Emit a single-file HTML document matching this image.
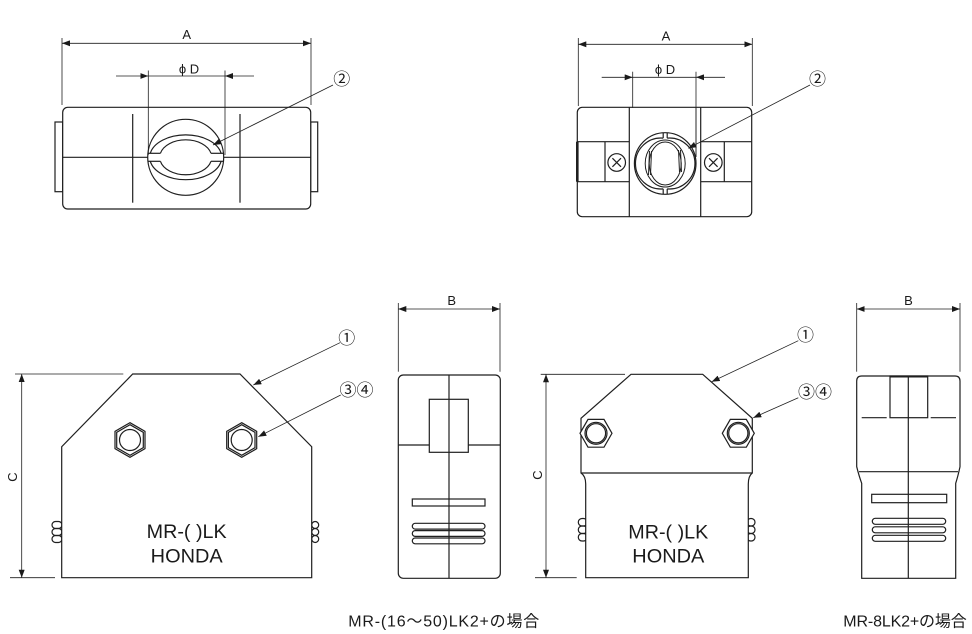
<!DOCTYPE html>
<html>
<head>
<meta charset="utf-8">
<style>
html,body{margin:0;padding:0;background:#fff;}
svg{display:block;}
text{font-family:"Liberation Sans","Noto Sans CJK JP",sans-serif;fill:#1a1a1a;}
</style>
</head>
<body>
<svg width="972" height="634" viewBox="0 0 972 634" xmlns="http://www.w3.org/2000/svg">
<defs>
<marker id="ar" viewBox="0 0 8 6" refX="8" refY="3" markerWidth="8" markerHeight="6" markerUnits="userSpaceOnUse" orient="auto-start-reverse">
<path d="M0,0 L8,3 L0,6 z" fill="#1a1a1a"/>
</marker>
</defs>

<g fill="none" stroke="#1f1f1f" stroke-width="0.8">
<!-- ===== TOP LEFT dims ===== -->
<line x1="62" y1="38" x2="62" y2="105"/>
<line x1="311" y1="38" x2="311" y2="105"/>
<line x1="62" y1="43.3" x2="311" y2="43.3" marker-start="url(#ar)" marker-end="url(#ar)"/>
<line x1="116" y1="76" x2="148.3" y2="76" marker-end="url(#ar)"/>
<line x1="254" y1="76" x2="225" y2="76" marker-end="url(#ar)"/>
<line x1="148.3" y1="76" x2="225" y2="76"/>
<line x1="148.3" y1="70.5" x2="148.3" y2="155"/>
<line x1="225" y1="70.5" x2="225" y2="155"/>
</g>
<g fill="none" stroke="#1f1f1f" stroke-width="1.2">
<rect x="55" y="122" width="7.7" height="69.7"/>
<rect x="310.7" y="122" width="7" height="69.7"/>
<rect x="62.7" y="107.3" width="248" height="101.7" rx="5" fill="#fff"/>
<line x1="62.7" y1="157.3" x2="148" y2="157.3"/>
<line x1="223.5" y1="157.3" x2="310.7" y2="157.3"/>
<line x1="132.7" y1="114" x2="132.7" y2="202.7"/>
<line x1="240" y1="114" x2="240" y2="202.7"/>
<circle cx="185.7" cy="157.3" r="38"/>
<path d="M150.3,153.3 A36,22.5 0 0 1 221.1,153.3"/>
<path d="M150.3,161.3 A36,22.5 0 0 0 221.1,161.3"/>
<path d="M160.4,153.3 A26,17.5 0 0 1 211,153.3"/>
<path d="M160.4,161.3 A26,17.5 0 0 0 211,161.3"/>
<line x1="148" y1="153.3" x2="160.4" y2="153.3"/>
<line x1="148" y1="161.3" x2="160.4" y2="161.3"/>
<line x1="211" y1="153.3" x2="223.5" y2="153.3"/>
<line x1="211" y1="161.3" x2="223.5" y2="161.3"/>
</g>
<line x1="148.3" y1="107" x2="148.3" y2="155" stroke="#1f1f1f" stroke-width="0.8"/>
<line x1="225" y1="107" x2="225" y2="155" stroke="#1f1f1f" stroke-width="0.8"/>
<text x="186.7" y="39" font-size="13" text-anchor="middle">A</text>
<text x="189" y="73.5" font-size="13" text-anchor="middle">ϕ D</text>
<text x="341.7" y="85" font-size="17" text-anchor="middle">②</text>

<!-- ===== TOP RIGHT ===== -->
<g fill="none" stroke="#1f1f1f" stroke-width="0.8">
<line x1="578.3" y1="38" x2="578.3" y2="106"/>
<line x1="752.3" y1="38" x2="752.3" y2="106"/>
<line x1="578.3" y1="44.3" x2="752.3" y2="44.3" marker-start="url(#ar)" marker-end="url(#ar)"/>
<line x1="601.7" y1="77.3" x2="632.7" y2="77.3" marker-end="url(#ar)"/>
<line x1="725" y1="77.3" x2="696" y2="77.3" marker-end="url(#ar)"/>
<line x1="632.7" y1="77.3" x2="696" y2="77.3"/>
<line x1="632.7" y1="71.7" x2="632.7" y2="108"/>
<line x1="696" y1="71.7" x2="696" y2="157"/>
</g>
<g fill="none" stroke="#1f1f1f" stroke-width="1.2">
<rect x="577.3" y="107.3" width="174.4" height="109.4" rx="5"/>
<line x1="629.3" y1="107.3" x2="629.3" y2="216.7"/>
<line x1="700.7" y1="107.3" x2="700.7" y2="216.7"/>
<line x1="577.3" y1="141.7" x2="629.3" y2="141.7"/>
<line x1="577.3" y1="181.7" x2="629.3" y2="181.7"/>
<line x1="700.7" y1="141.7" x2="751.7" y2="141.7"/>
<line x1="700.7" y1="181.7" x2="751.7" y2="181.7"/>
<line x1="605" y1="141.7" x2="605" y2="181.7"/>
<line x1="724.3" y1="141.7" x2="724.3" y2="181.7"/>
<circle cx="616.7" cy="162.5" r="8.8"/>
<circle cx="713.3" cy="162.5" r="8.8"/>
<path d="M612.4,158.2 L621,166.8 M621,158.2 L612.4,166.8"/>
<path d="M709,158.2 L717.6,166.8 M717.6,158.2 L709,166.8"/>
<circle cx="665.2" cy="163.5" r="30.8"/>
<path d="M667.2,138.1 A25.5,25.5 0 1 1 667.2,188.9"/>
<path d="M663.2,138.1 A25.5,25.5 0 1 0 663.2,188.9"/>
<line x1="663.2" y1="132.8" x2="663.2" y2="138.1"/>
<line x1="667.2" y1="132.8" x2="667.2" y2="138.1"/>
<line x1="663.2" y1="188.9" x2="663.2" y2="194.3"/>
<line x1="667.2" y1="188.9" x2="667.2" y2="194.3"/>
</g>
<g fill="none" stroke="#1f1f1f" stroke-width="1">
<ellipse cx="665.2" cy="163.5" rx="20" ry="23.5"/>
<ellipse cx="665.2" cy="163.5" rx="16" ry="21.5"/>
<path d="M649.5,151 L648.5,175 M651.5,151 L650.5,175"/>
<path d="M680.5,150 L681.5,172 M678.5,150 L679.5,172"/>
</g>
<line x1="577.3" y1="141.7" x2="577.3" y2="181.7" stroke="#1f1f1f" stroke-width="2.6"/>
<line x1="696" y1="107.3" x2="696" y2="157" stroke="#1f1f1f" stroke-width="0.8"/>
<text x="666" y="40.5" font-size="13" text-anchor="middle">A</text>
<text x="665" y="74" font-size="13" text-anchor="middle">ϕ D</text>
<text x="817.5" y="85" font-size="17" text-anchor="middle">②</text>

<!-- ===== BOTTOM LEFT ===== -->
<g fill="none" stroke="#1f1f1f" stroke-width="0.8">
<line x1="15" y1="374" x2="123.3" y2="374"/>
<line x1="10" y1="577.7" x2="55" y2="577.7"/>
<line x1="21.7" y1="374" x2="21.7" y2="577.7" marker-start="url(#ar)" marker-end="url(#ar)"/>
</g>
<g fill="none" stroke="#1f1f1f" stroke-width="1.2">
<rect x="52" y="521.5" width="10" height="7" rx="3.5"/>
<rect x="52" y="528.5" width="10" height="7" rx="3.5"/>
<rect x="52" y="535.5" width="10" height="7" rx="3.5"/>
<rect x="311.7" y="521.5" width="7" height="7" rx="3.5"/>
<rect x="311.7" y="528.5" width="7" height="7" rx="3.5"/>
<rect x="311.7" y="535.5" width="7" height="7" rx="3.5"/>
<path d="M132.7,374 L240,374 L311.7,446.7 L311.7,577.7 L61.7,577.7 L61.7,446.7 Z" fill="#fff"/>
<polygon points="130,422.7 145,431.3 145,448.7 130,457.3 115,448.7 115,431.3"/>
<polygon points="130,424.7 143.3,432.3 143.3,447.7 130,455.3 116.7,447.7 116.7,432.3"/>
<circle cx="130" cy="440" r="10.5"/>
<polygon points="241.7,422.7 256.7,431.3 256.7,448.7 241.7,457.3 226.7,448.7 226.7,431.3"/>
<polygon points="241.7,424.7 255,432.3 255,447.7 241.7,455.3 228.4,447.7 228.4,432.3"/>
<circle cx="241.7" cy="440" r="10.5"/>
</g>
<text transform="translate(17,477) rotate(-90)" font-size="13" text-anchor="middle">C</text>
<text x="186.7" y="538" font-size="19" text-anchor="middle" textLength="80" lengthAdjust="spacingAndGlyphs">MR-( )LK</text>
<text x="186.7" y="562.7" font-size="19" text-anchor="middle" textLength="72" lengthAdjust="spacingAndGlyphs">HONDA</text>
<text x="346.7" y="344" font-size="17" text-anchor="middle">①</text>
<text x="356.5" y="396" font-size="17" text-anchor="middle">③④</text>

<!-- ===== BOTTOM MIDDLE ===== -->
<g fill="none" stroke="#1f1f1f" stroke-width="0.8">
<line x1="398.3" y1="303" x2="398.3" y2="371.7"/>
<line x1="500" y1="303" x2="500" y2="371.7"/>
<line x1="398.3" y1="309" x2="500" y2="309" marker-start="url(#ar)" marker-end="url(#ar)"/>
</g>
<g fill="none" stroke="#1f1f1f" stroke-width="1.2">
<rect x="398.3" y="375" width="102" height="203.3" rx="5"/>
<line x1="449" y1="375" x2="449" y2="578.3"/>
<line x1="398.3" y1="445" x2="429.3" y2="445"/>
<line x1="468.3" y1="445" x2="500.3" y2="445"/>
<rect x="429.3" y="399.3" width="39" height="53"/>
<rect x="412.3" y="499" width="72.7" height="7"/>
<rect x="412.3" y="523.3" width="72.7" height="5.8" rx="2.9"/>
<rect x="412.3" y="530.6" width="72.7" height="5.8" rx="2.9"/>
<rect x="412.3" y="538" width="72.7" height="5.8" rx="2.9"/>
</g>
<text x="451.7" y="305" font-size="13" text-anchor="middle">B</text>

<!-- ===== BOTTOM RIGHT ===== -->
<g fill="none" stroke="#1f1f1f" stroke-width="0.8">
<line x1="540.7" y1="374.3" x2="625" y2="374.3"/>
<line x1="535" y1="577.7" x2="576.7" y2="577.7"/>
<line x1="546" y1="374.3" x2="546" y2="577.7" marker-start="url(#ar)" marker-end="url(#ar)"/>
</g>
<g fill="none" stroke="#1f1f1f" stroke-width="1.2">
<rect x="578.3" y="518.5" width="9" height="7.5" rx="3.7"/>
<rect x="578.3" y="526" width="9" height="7.5" rx="3.7"/>
<rect x="578.3" y="533.5" width="9" height="7.5" rx="3.7"/>
<rect x="747" y="518.5" width="8" height="7.5" rx="3.7"/>
<rect x="747" y="526" width="8" height="7.5" rx="3.7"/>
<rect x="747" y="533.5" width="8" height="7.5" rx="3.7"/>
<path d="M631,374.3 L702.7,374.3 L752.3,418.3 L752.3,473 Q748.3,476 748.3,484 L748.3,577.7 L585.7,577.7 L585.7,484 Q585.7,476 581,473 L581,418.3 Z" fill="#fff"/>
<line x1="581" y1="473" x2="752.3" y2="473"/>
<polygon points="612,433.3 604,419.4 588,419.4 580,433.3 588,447.2 604,447.2" fill="#fff"/>
<circle cx="596" cy="433.3" r="11"/>
<circle cx="596" cy="433.3" r="9.6"/>
<polygon points="754.3,433.3 746.3,419.4 730.3,419.4 722.3,433.3 730.3,447.2 746.3,447.2" fill="#fff"/>
<circle cx="738.3" cy="433.3" r="11"/>
<circle cx="738.3" cy="433.3" r="9.6"/>
</g>
<text transform="translate(542,475) rotate(-90)" font-size="13" text-anchor="middle">C</text>
<text x="668.3" y="538.3" font-size="19" text-anchor="middle" textLength="80" lengthAdjust="spacingAndGlyphs">MR-( )LK</text>
<text x="668.3" y="562.7" font-size="19" text-anchor="middle" textLength="72" lengthAdjust="spacingAndGlyphs">HONDA</text>
<text x="805.5" y="341" font-size="17" text-anchor="middle">①</text>
<text x="815" y="398" font-size="17" text-anchor="middle">③④</text>

<!-- ===== FAR RIGHT ===== -->
<g fill="none" stroke="#1f1f1f" stroke-width="0.8">
<line x1="856.7" y1="303" x2="856.7" y2="371.7"/>
<line x1="960" y1="303" x2="960" y2="371.7"/>
<line x1="856.7" y1="309" x2="960" y2="309" marker-start="url(#ar)" marker-end="url(#ar)"/>
</g>
<g fill="none" stroke="#1f1f1f" stroke-width="1.2">
<path d="M856.7,381 Q856.7,376 861.7,376 L955,376 Q960,376 960,381 L960,466.7 Q958,476 955.7,483.3 L955.7,578.3 L861.7,578.3 L861.7,483.3 Q859,476 856.7,466.7 Z"/>
<line x1="908.3" y1="376" x2="908.3" y2="578.3"/>
<line x1="859" y1="471.7" x2="958" y2="471.7"/>
<line x1="861.7" y1="417.7" x2="886.7" y2="417.7"/>
<line x1="930.7" y1="417.7" x2="956" y2="417.7"/>
<rect x="890" y="376" width="37.7" height="41.7"/>
<rect x="871.7" y="494.3" width="75" height="8.4"/>
<rect x="872.3" y="518.3" width="73.4" height="6" rx="3"/>
<rect x="872.3" y="526.8" width="73.4" height="6" rx="3"/>
<rect x="872.3" y="535.3" width="73.4" height="6" rx="3"/>
</g>
<line x1="890" y1="376.5" x2="927.7" y2="376.5" stroke="#1f1f1f" stroke-width="2"/>
<text x="908.5" y="305" font-size="13" text-anchor="middle">B</text>

<!-- ===== LEADER LINES (on top) ===== -->
<g fill="none" stroke="#1f1f1f" stroke-width="0.8">
<line x1="333" y1="85" x2="213" y2="145" marker-end="url(#ar)"/>
<line x1="810" y1="85" x2="688.3" y2="148.3" marker-end="url(#ar)"/>
<line x1="340" y1="342.7" x2="253.3" y2="385" marker-end="url(#ar)"/>
<line x1="340.7" y1="395" x2="258.3" y2="436.7" marker-end="url(#ar)"/>
<line x1="798.3" y1="340.7" x2="711.7" y2="381.7" marker-end="url(#ar)"/>
<line x1="798.3" y1="397.7" x2="753.3" y2="417.7" marker-end="url(#ar)"/>
</g>

<!-- captions -->
<text x="348.3" y="626.5" font-size="16" textLength="191" lengthAdjust="spacing">MR-(16～50)LK2+の場合</text>
<text x="843.3" y="626.5" font-size="16" textLength="123.5" lengthAdjust="spacing">MR-8LK2+の場合</text>
</svg>
</body>
</html>
